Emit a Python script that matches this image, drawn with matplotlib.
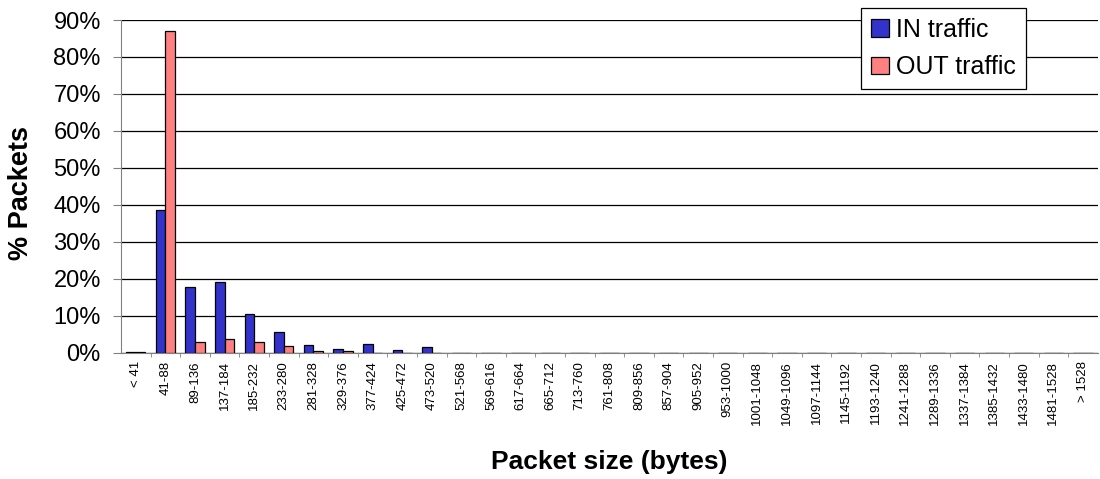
import numpy as np
from matplotlib import pyplot as plt
from matplotlib.ticker import PercentFormatter, FixedLocator

# Packet size bins (bytes)
categorie = ['< 41'] + ['%d-%d' % (a, a + 47) for a in range(41, 1529, 48)] + ['> 1528']

# Percent of packets per bin
traffico_in = [0.3, 38.6, 17.7, 19.0, 10.6, 5.7, 2.1, 1.0, 2.4, 0.6, 1.5] + [0.0] * 22
traffico_out = [0.2, 87.0, 2.8, 3.6, 2.8, 1.7, 0.4, 0.4, 0.0, 0.0, 0.0] + [0.0] * 22

plt.rcParams['font.family'] = ['Liberation Sans', 'DejaVu Sans']

fig = plt.figure(figsize=(11, 4.79), dpi=100)
ax = fig.add_axes([0.110, 0.2637, 0.888, 0.6945])

x = np.arange(len(categorie))
w = 0.325
ax.bar(x - w / 2, np.array(traffico_in) / 100, w, color='#3333CC', edgecolor='black',
       linewidth=0.9, label='IN traffic', zorder=3)
ax.bar(x + w / 2, np.array(traffico_out) / 100, w, color='#FF8080', edgecolor='black',
       linewidth=0.9, label='OUT traffic', zorder=3)

ax.set_xlim(-0.5, len(categorie) - 0.5)
ax.set_ylim(0, 0.9)
ax.set_yticks(np.arange(0, 0.91, 0.1))
ax.yaxis.set_major_formatter(PercentFormatter(1.0, decimals=0))
ax.grid(axis='y', color='black', linewidth=0.9, zorder=0)

ax.set_xticks(x)
ax.set_xticklabels(categorie, rotation=90, fontsize=9.5)
ax.xaxis.set_minor_locator(FixedLocator(x[:-1] + 0.5))
ax.tick_params(axis='x', which='major', length=0, pad=6)
ax.tick_params(axis='x', which='minor', length=3, color='#808080', direction='out')
ax.tick_params(axis='y', labelsize=17, length=6, color='#808080', pad=8.5)

for s in ['top', 'right']:
    ax.spines[s].set_visible(False)
ax.spines['left'].set_color('#808080')
ax.spines['bottom'].set_color('#808080')

ax.set_ylabel('% Packets', fontsize=19.5, fontweight='bold')
ax.yaxis.set_label_coords(-0.089, 0.48)
ax.set_xlabel('Packet size (bytes)', fontsize=19, fontweight='bold', labelpad=18)

leg = ax.legend(loc='upper left', bbox_to_anchor=(0.758, 1.036), fontsize=18,
                fancybox=False, framealpha=1, edgecolor='black', handlelength=0.72,
                handleheight=0.72, handletextpad=0.3, borderpad=0.38, labelspacing=0.55,
                borderaxespad=0)
leg.get_frame().set_linewidth(0.9)

plt.savefig('out.png', dpi=100)
